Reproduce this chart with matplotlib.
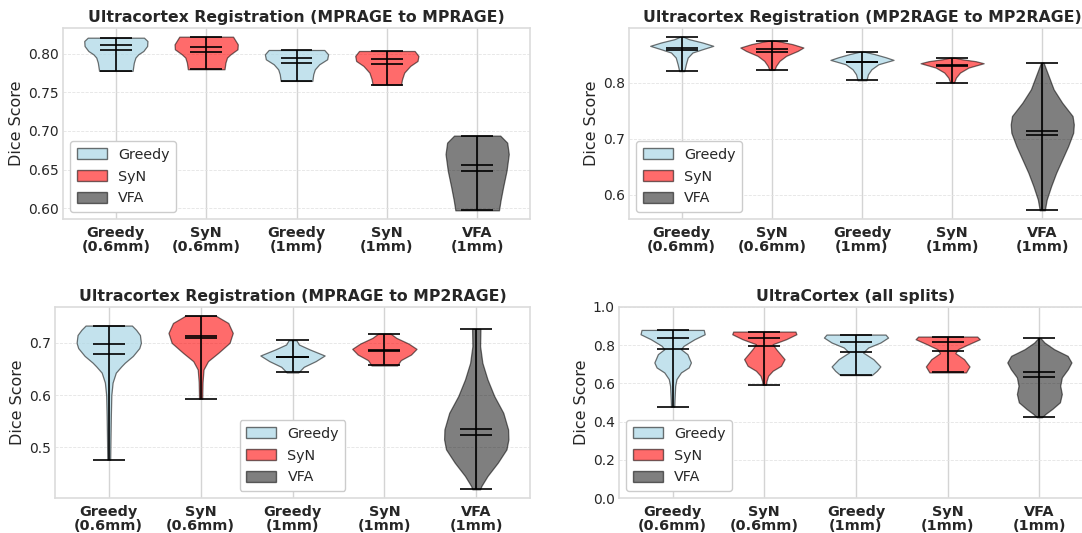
import matplotlib
matplotlib.use("Agg")
import matplotlib.pyplot as plt
from matplotlib.patches import Patch
from matplotlib.ticker import MultipleLocator, FormatStrFormatter

# ---------------- data ----------------
categories = ["Greedy\n(0.6mm)", "SyN\n(0.6mm)", "Greedy\n(1mm)", "SyN\n(1mm)", "VFA\n(1mm)"]
methods = ["Greedy", "SyN", "Greedy", "SyN", "VFA"]
titles = [
    "Ultracortex Registration (MPRAGE to MPRAGE)",
    "Ultracortex Registration (MP2RAGE to MP2RAGE)",
    "Ultracortex Registration (MPRAGE to MP2RAGE)",
    "UltraCortex (all splits)",
]

# Panel 1: MPRAGE -> MPRAGE  (density profile: score levels, relative widths)
p1_levels = [
    [0.7777, 0.7884, 0.7949, 0.7991, 0.8034, 0.8099, 0.8163, 0.8206],
    [0.7798, 0.7884, 0.7949, 0.7991, 0.8056, 0.8120, 0.8219],
    [0.7647, 0.7733, 0.7797, 0.7862, 0.7927, 0.7991, 0.8047],
    [0.7599, 0.7668, 0.7754, 0.7841, 0.7905, 0.7970, 0.8034],
    [0.5974, 0.6103, 0.6273, 0.6487, 0.6701, 0.6849, 0.6940],
]
p1_widths = [
    [0.53, 0.57, 0.62, 0.71, 0.87, 0.99, 1.0, 0.89],
    [0.58, 0.61, 0.66, 0.77, 0.99, 1.0, 0.85],
    [0.50, 0.53, 0.58, 0.72, 0.97, 1.0, 0.88],
    [0.45, 0.48, 0.55, 0.74, 0.97, 1.0, 0.88],
    [0.69, 0.74, 0.82, 0.93, 1.0, 0.95, 0.73],
]
p1_mean = [0.8043, 0.8026, 0.7884, 0.7871, 0.6480]
p1_median = [0.8111, 0.8090, 0.7944, 0.7935, 0.6565]

# Panel 2: MP2RAGE -> MP2RAGE
p2_levels = [
    [0.8205, 0.8327, 0.8446, 0.8536, 0.8595, 0.8655, 0.8714, 0.8774, 0.8818],
    [0.8226, 0.8297, 0.8386, 0.8476, 0.8565, 0.8625, 0.8684, 0.8732, 0.8750],
    [0.8042, 0.8149, 0.8238, 0.8327, 0.8405, 0.8452, 0.8506, 0.8554],
    [0.8000, 0.8089, 0.8179, 0.8268, 0.8345, 0.8381, 0.8417, 0.8446],
    [0.5726, 0.5917, 0.6155, 0.6393, 0.6631, 0.6869, 0.7107, 0.7256, 0.7405,
     0.7643, 0.7881, 0.8119, 0.8357],
]
p2_widths = [
    [0.08, 0.13, 0.19, 0.34, 0.66, 1.0, 0.66, 0.23, 0.05],
    [0.08, 0.13, 0.24, 0.45, 0.82, 1.0, 0.66, 0.26, 0.05],
    [0.14, 0.19, 0.30, 0.52, 1.0, 0.75, 0.41, 0.05],
    [0.06, 0.12, 0.25, 0.52, 1.0, 0.75, 0.30, 0.05],
    [0.08, 0.14, 0.28, 0.44, 0.63, 0.82, 0.98, 1.0, 0.96, 0.63, 0.36, 0.20, 0.04],
]
p2_mean = [0.8583, 0.8553, 0.8360, 0.8298, 0.7060]
p2_median = [0.8625, 0.8595, 0.8375, 0.8315, 0.7137]

# Panel 3: MPRAGE -> MP2RAGE
p3_levels = [
    [0.4764, 0.520, 0.560, 0.600, 0.624, 0.643, 0.655, 0.662, 0.675, 0.690,
     0.700, 0.715, 0.725, 0.7331],
    [0.593, 0.598, 0.625, 0.649, 0.665, 0.681, 0.700, 0.719, 0.738, 0.752],
    [0.6433, 0.6541, 0.6650, 0.6758, 0.6873, 0.6968, 0.7051],
    [0.6567, 0.6669, 0.6777, 0.6885, 0.6987, 0.7096, 0.7178],
    [0.4197, 0.4261, 0.4452, 0.4707, 0.4962, 0.5153, 0.5344, 0.5662, 0.5981,
     0.6299, 0.6618, 0.6936, 0.7268],
]
p3_widths = [
    [0.045, 0.055, 0.065, 0.08, 0.12, 0.22, 0.39, 0.50, 0.75, 0.95, 1.0, 0.97, 0.85, 0.72],
    [0.05, 0.05, 0.06, 0.09, 0.23, 0.55, 0.90, 1.0, 0.86, 0.47],
    [0.18, 0.35, 0.72, 1.0, 0.54, 0.20, 0.12],
    [0.40, 0.51, 0.83, 1.0, 0.75, 0.37, 0.19],
    [0.12, 0.16, 0.35, 0.67, 0.94, 1.0, 0.99, 0.84, 0.56, 0.35, 0.19, 0.12, 0.13],
]
p3_mean = [0.6783, 0.7096, 0.6725, 0.6847, 0.5229]
p3_median = [0.6981, 0.7127, 0.6735, 0.6860, 0.5350]

# Panel 4: all splits
p4_levels = [
    [0.4783, 0.5183, 0.5878, 0.6226, 0.6574, 0.6835, 0.7096, 0.7530, 0.7791,
     0.7965, 0.8313, 0.8574, 0.8800],
    [0.593, 0.6139, 0.640, 0.6661, 0.6922, 0.7270, 0.7791, 0.8052, 0.8313,
     0.8574, 0.8713],
    [0.6435, 0.6661, 0.6887, 0.7270, 0.7617, 0.7878, 0.8139, 0.8400, 0.8557],
    [0.6574, 0.6887, 0.7270, 0.7583, 0.7791, 0.8052, 0.8313, 0.8452],
    [0.4226, 0.4400, 0.4661, 0.5009, 0.5443, 0.5878, 0.6313, 0.6748, 0.7096,
     0.7443, 0.7791, 0.8139, 0.8365],
]
p4_widths = [
    [0.05, 0.06, 0.08, 0.12, 0.26, 0.50, 0.57, 0.46, 0.26, 0.34, 0.68, 1.0, 0.97],
    [0.05, 0.07, 0.12, 0.26, 0.52, 0.63, 0.37, 0.26, 0.68, 1.0, 0.97],
    [0.49, 0.65, 0.76, 0.54, 0.22, 0.38, 0.76, 1.0, 0.92],
    [0.57, 0.68, 0.51, 0.24, 0.32, 0.65, 1.0, 0.92],
    [0.08, 0.19, 0.40, 0.64, 0.70, 0.65, 0.70, 0.89, 1.0, 0.88, 0.46, 0.16, 0.04],
]
p4_mean = [0.7826, 0.7948, 0.7670, 0.7722, 0.6348]
p4_median = [0.8400, 0.8400, 0.8191, 0.8191, 0.6574]

panels = [
    (p1_levels, p1_widths, p1_mean, p1_median),
    (p2_levels, p2_widths, p2_mean, p2_median),
    (p3_levels, p3_widths, p3_mean, p3_median),
    (p4_levels, p4_widths, p4_mean, p4_median),
]

# ---------------- style ----------------
face = {
    "Greedy": (173 / 255, 216 / 255, 230 / 255, 0.72),
    "SyN": (1.0, 0.0, 0.0, 0.58),
    "VFA": (0.0, 0.0, 0.0, 0.5),
}
edge = (0.0, 0.0, 0.0, 0.55)
text_col = "#262626"

plt.rcParams["font.family"] = ["DejaVu Sans"]

W, H = 1082, 533
fig = plt.figure(figsize=(W / 100, H / 100), dpi=100)

# axes boxes in pixels: left, top, right, bottom
boxes = [
    (63, 28, 530, 219),
    (629, 28, 1095, 219),
    (55, 307, 530, 498),
    (619, 307, 1093, 498),
]
yl_steps = [0.05, 0.1, 0.1, 0.2]
yl_fmt = ["%.2f", "%.1f", "%.1f", "%.1f"]
legend_locs = ["lower left", "lower left", "lower center", "lower left"]

positions = [1, 2, 3, 4, 5]

for i, (lv, wd, mn, md) in enumerate(panels):
    l, t, r, b = boxes[i]
    ax = fig.add_axes([l / W, 1 - b / H, (r - l) / W, (b - t) / H])
    ax.set_axisbelow(True)
    ax.set_facecolor("white")

    stats = []
    for k in range(5):
        stats.append({
            "coords": lv[k],
            "vals": wd[k],
            "mean": mn[k],
            "median": md[k],
            "min": lv[k][0],
            "max": lv[k][-1],
        })
    parts = ax.violin(stats, positions=positions, widths=0.7,
                      showmeans=True, showmedians=True, showextrema=True)
    for body, m in zip(parts["bodies"], methods):
        body.set_alpha(None)
        body.set_facecolor(face[m])
        body.set_edgecolor(edge)
        body.set_linewidth(0.9)
    for key in ["cbars", "cmins", "cmaxes", "cmeans", "cmedians"]:
        parts[key].set_color("black")
        parts[key].set_linewidth(1.2)

    if i == 3:
        ax.set_ylim(0.0, 1.0)

    ax.yaxis.set_major_locator(MultipleLocator(yl_steps[i]))
    ax.yaxis.set_major_formatter(FormatStrFormatter(yl_fmt[i]))

    ax.set_xticks(positions)
    ax.set_xticklabels(categories, fontsize=10.4, fontweight="bold", color=text_col,
                       linespacing=1.0)
    ax.tick_params(axis="y", labelsize=10.0, labelcolor=text_col, length=0, pad=3)
    ax.tick_params(axis="x", length=0, pad=5)

    ax.grid(axis="x", color="#d4d4d4", linewidth=1.0, linestyle="-")
    ax.grid(axis="y", color="#e4e4e4", linewidth=0.6, linestyle="--")
    for s in ax.spines.values():
        s.set_color("#dcdcdc")
        s.set_linewidth(1.2)

    ax.set_title(titles[i], fontsize=11.3, fontweight="bold", color=text_col, pad=4)
    ax.set_ylabel("Dice Score", fontsize=11.5, color=text_col, labelpad=3)

    handles = [
        Patch(facecolor=face["Greedy"], edgecolor=edge, label="Greedy"),
        Patch(facecolor=face["SyN"], edgecolor=edge, label="SyN"),
        Patch(facecolor=face["VFA"], edgecolor=edge, label="VFA"),
    ]
    leg = ax.legend(handles=handles, loc=legend_locs[i], fontsize=10.3,
                    frameon=True, fancybox=True, framealpha=1.0,
                    handlelength=2.1, handleheight=0.75, borderpad=0.45,
                    labelspacing=0.55, handletextpad=0.8)
    leg.get_frame().set_edgecolor("#cccccc")
    for txt in leg.get_texts():
        txt.set_color(text_col)

fig.savefig("out.png", dpi=100)
